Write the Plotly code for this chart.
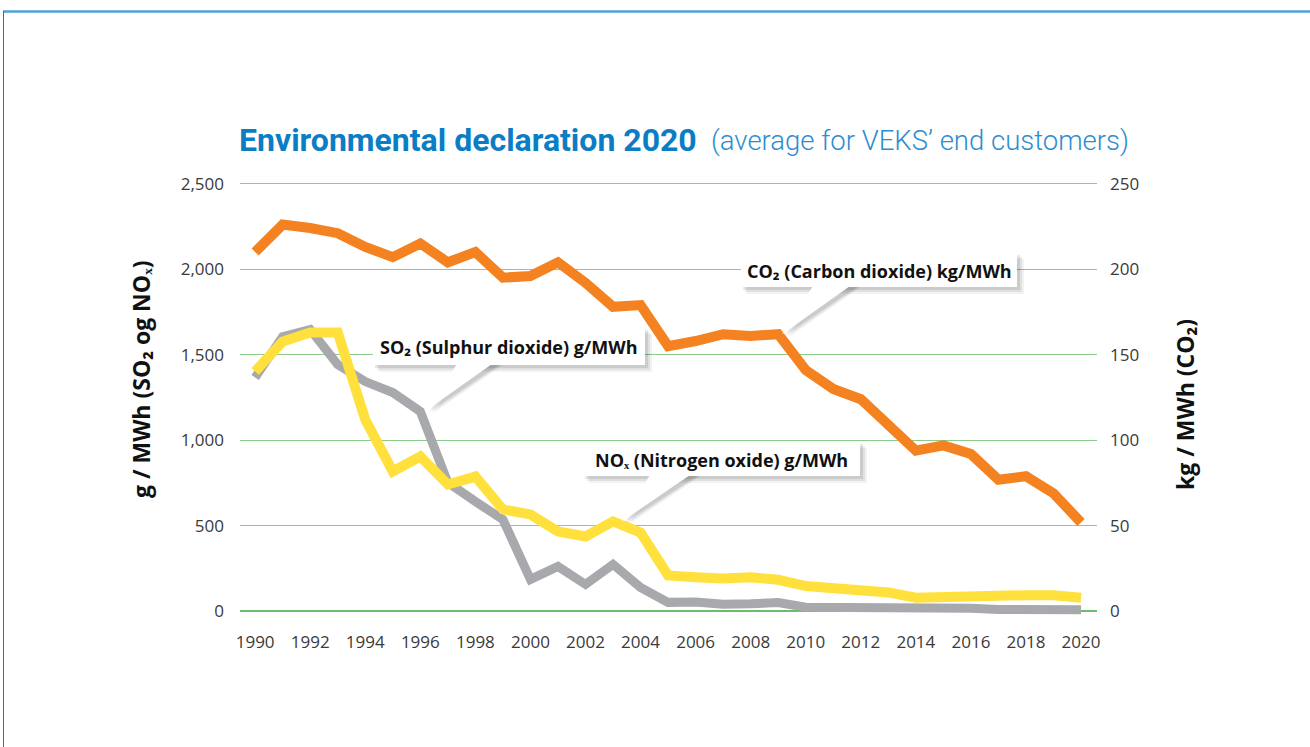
import plotly.graph_objects as go

years = list(range(1990, 2021))
co2 = [210, 226, 224, 221, 213, 207, 215, 204, 210, 195, 196, 204, 192, 178, 179, 155,
       158, 162, 161, 162, 141, 130, 124, 109, 94, 97, 92, 77, 79, 69, 52]
so2 = [1367, 1606, 1647, 1443, 1343, 1279, 1168, 753, 642, 537, 187, 263, 158, 275, 140, 53,
       55, 42, 45, 52, 25, 25, 30, 28, 18, 20, 18, 12, 12, 15, 10]
nox = [1402, 1577, 1630, 1630, 1121, 818, 905, 742, 788, 596, 567, 467, 438, 526, 461, 210,
       200, 192, 200, 185, 148, 140, 132, 111, 80, 86, 90, 95, 95, 95, 80]

left_ticks = [0, 500, 1000, 1500, 2000, 2500]
right_ticks = [0, 50, 100, 150, 200, 250]
x_ticks = list(range(1990, 2021, 2))

label_so2 = "SO₂ (Sulphur dioxide) g/MWh"
label_nox = "NOₓ (Nitrogen oxide) g/MWh"
label_co2 = "CO₂ (Carbon dioxide) kg/MWh"

# ---- geometry (body margin removed by post_script) ----
OFF = 0
W, H = 1310, 747
PW, PH = 857, 445
ML = 240 - OFF
MT = 175 - OFF
MR = W - ML - PW
MB = H - MT - PH
XR = [1989.45, 2020.58]
YR = [-50, 2550]
Y2R = [-5, 255]


def px2paper_x(px):
    return (px - OFF - ML) / PW


def px2paper_y(py):
    return (H - MB - (py - OFF)) / PH


def xpix(v):
    return OFF + ML + (v - XR[0]) / (XR[1] - XR[0]) * PW


def ypix(v, rng=YR):
    return OFF + H - MB - (v - rng[0]) / (rng[1] - rng[0]) * PH


fig = go.Figure()
fig.add_trace(go.Scatter(x=years, y=so2, mode="lines", line=dict(color="#A7A9AC", width=9),
                         hoverinfo="skip", name="SO2"))
fig.add_trace(go.Scatter(x=years, y=nox, mode="lines", line=dict(color="#FFE03D", width=10),
                         hoverinfo="skip", name="NOx"))
fig.add_trace(go.Scatter(x=years, y=co2, mode="lines", line=dict(color="#F58220", width=10),
                         hoverinfo="skip", name="CO2", yaxis="y2"))

tickfont = dict(family="Open Sans", size=17, color="#3a3a3a")

fig.update_layout(
    width=W, height=H,
    margin=dict(l=ML, r=MR, t=MT, b=MB),
    paper_bgcolor="white", plot_bgcolor="white",
    showlegend=False,
    xaxis=dict(range=XR, tickvals=x_ticks, ticktext=[str(t) for t in x_ticks],
               showgrid=False, zeroline=False, showline=False, tickfont=tickfont,
               ticks="", ticklabelstandoff=10),
    yaxis=dict(range=YR, tickvals=left_ticks, ticktext=[f"{t:,}" for t in left_ticks],
               showgrid=True, gridcolor="#8DCB8B", gridwidth=1, zeroline=True,
               zerolinecolor="#6BBE69", zerolinewidth=1.6, showline=False,
               tickfont=tickfont, ticks="", ticklabelstandoff=15),
    yaxis2=dict(range=Y2R, tickvals=right_ticks, ticktext=[str(t) for t in right_ticks],
                overlaying="y", side="right", showgrid=False, zeroline=False,
                showline=False, tickfont=tickfont, ticks="", ticklabelstandoff=12),
)

shapes = []
annotations = []

# page frame
shapes.append(dict(type="line", xref="paper", yref="paper",
                   x0=px2paper_x(3), x1=px2paper_x(1320), y0=px2paper_y(11.5), y1=px2paper_y(11.5),
                   line=dict(color="#4BA3D8", width=2.5), layer="above"))
shapes.append(dict(type="line", xref="paper", yref="paper",
                   x0=px2paper_x(3.5), x1=px2paper_x(3.5), y0=px2paper_y(11), y1=px2paper_y(760),
                   line=dict(color="#1F78B4", width=1), layer="above"))

# title
annotations.append(dict(text="<b>Environmental declaration 2020</b>", xref="paper", yref="paper",
                        x=px2paper_x(237), y=px2paper_y(140), xanchor="left", yanchor="middle",
                        showarrow=False,
                        font=dict(family="Roboto", size=32, color="#0B7DC5")))
annotations.append(dict(text="(average for VEKS’ end customers)", xref="paper", yref="paper",
                        x=px2paper_x(709), y=px2paper_y(140), xanchor="left", yanchor="middle",
                        showarrow=False,
                        font=dict(family="Roboto", size=27.5, color="#2B8DD0", weight=300)))

# axis titles
annotations.append(dict(text="<b>g / MWh (SO₂ og NOₓ)</b>", xref="paper", yref="paper",
                        x=px2paper_x(141), y=px2paper_y(379), xanchor="center", yanchor="middle",
                        textangle=-90, showarrow=False,
                        font=dict(family="Open Sans", size=23, color="#111111")))
annotations.append(dict(text="<b>kg / MWh (CO₂)</b>", xref="paper", yref="paper",
                        x=px2paper_x(1185), y=px2paper_y(405), xanchor="center", yanchor="middle",
                        textangle=-90, showarrow=False,
                        font=dict(family="Open Sans", size=23, color="#111111")))


def callout(text, box, base, tip):
    x0, y0, x1, y1 = box
    bx0, bx1 = base
    tx, ty = tip
    P = lambda x, y: f"{px2paper_x(x):.5f},{px2paper_y(y):.5f}"
    for off, op in [(7, 0.05), (5, 0.07), (3, 0.09)]:
        shapes.append(dict(type="rect", xref="paper", yref="paper",
                           x0=px2paper_x(x0 + off - 1), x1=px2paper_x(x1 + off),
                           y0=px2paper_y(y0 + off), y1=px2paper_y(y1 + off),
                           fillcolor=f"rgba(0,0,0,{op})", line=dict(width=0), layer="above"))
        shapes.append(dict(type="path", xref="paper", yref="paper",
                           path=f"M{P(bx0 + off, y1)} L{P(bx1 + off + 4, y1)} L{P(tx + off, ty + off * 0.4)} Z",
                           fillcolor=f"rgba(0,0,0,{op})", line=dict(width=0), layer="above"))
    shapes.append(dict(type="rect", xref="paper", yref="paper",
                       x0=px2paper_x(x0), x1=px2paper_x(x1), y0=px2paper_y(y0), y1=px2paper_y(y1),
                       fillcolor="white", line=dict(width=0), layer="above"))
    shapes.append(dict(type="path", xref="paper", yref="paper",
                       path=f"M{P(bx0, y1 - 1)} L{P(bx1, y1 - 1)} L{P(tx, ty)} Z",
                       fillcolor="white", line=dict(width=0), layer="above"))
    annotations.append(dict(text=f"<b>{text}</b>", xref="paper", yref="paper",
                            x=px2paper_x((x0 + x1) / 2), y=px2paper_y((y0 + y1) / 2 + 1),
                            xanchor="center", yanchor="middle", showarrow=False,
                            font=dict(family="Open Sans", size=18, color="#111111")))


i96 = years.index(1996)
i03 = years.index(2003)
i09 = years.index(2009)
callout(label_so2, (373, 327, 645, 365), (457, 492),
        (xpix(1996) + 6, ypix(so2[i96]) - 1))
callout(label_nox, (583, 441, 860, 476), (650, 690),
        (xpix(2003) + 9, ypix(nox[i03])))
callout(label_co2, (741, 252, 1017, 287), (813, 850),
        (xpix(2009) + 4, ypix(co2[i09], Y2R)))

fig.update_layout(shapes=shapes, annotations=annotations)
fig.write_html("out.html",
               config={"displayModeBar": False},
               post_script="document.body.style.margin='0px';document.body.style.overflow='hidden';")
